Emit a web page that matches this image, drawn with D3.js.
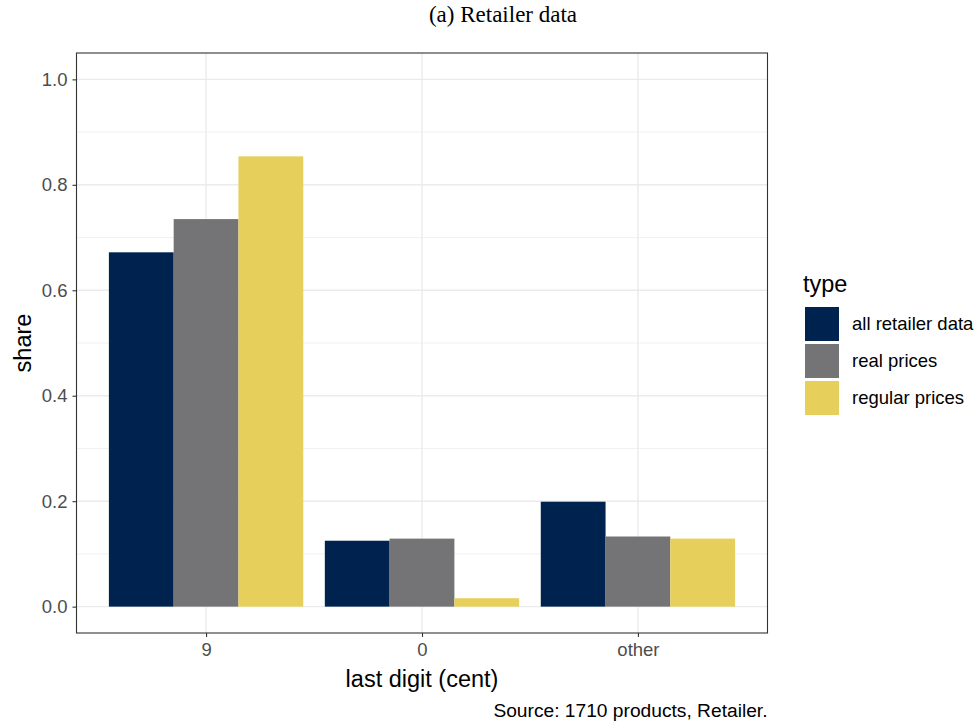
<!DOCTYPE html>
<html>
<head>
<meta charset="utf-8">
<script src="https://cdn.jsdelivr.net/npm/d3@7"></script>
<style>
  body { margin: 0; background: #fff; }
  svg { display: block; }
  text { font-family: "Liberation Sans", Arial, sans-serif; }
</style>
</head>
<body>
<svg id="chart" width="980" height="726"></svg>
<script>
const categories = ["9", "0", "other"];
const types = ["all retailer data", "real prices", "regular prices"];
const allRetailer = [0.672, 0.125, 0.199];
const realPrices = [0.735, 0.129, 0.133];
const regularPrices = [0.854, 0.016, 0.129];
const yTicks = [0, 0.2, 0.4, 0.6, 0.8, 1.0];
const yMinor = [0.1, 0.3, 0.5, 0.7, 0.9];
const colors = ["#00224E", "#747375", "#E6D05B"];

const seriesValues = [allRetailer, realPrices, regularPrices];
const data = [];
categories.forEach((c, i) => types.forEach((t, j) => data.push({cat: c, type: t, value: seriesValues[j][i]})));

const svg = d3.select("#chart");
const panel = {left: 76.5, right: 767.5, top: 53, bottom: 633};

// ggplot-style discrete expansion: 0.6 units each side
const step = (panel.right - panel.left) / (categories.length - 1 + 1.2);
const xPos = d3.scalePoint().domain(categories)
  .range([panel.left + 0.6 * step, panel.right - 0.6 * step]);
const groupW = 0.9 * step;
const xInner = d3.scaleBand().domain(types).range([-groupW / 2, groupW / 2]).padding(0);

const y = d3.scaleLinear().domain([-0.05, 1.05]).range([panel.bottom, panel.top]);
const color = d3.scaleOrdinal().domain(types).range(colors);

// grid
const g = svg.append("g");
g.selectAll(".minor").data(yMinor).join("line")
  .attr("x1", panel.left).attr("x2", panel.right)
  .attr("y1", d => y(d)).attr("y2", d => y(d))
  .attr("stroke", "#EBEBEB").attr("stroke-width", 0.7);
g.selectAll(".major").data(yTicks).join("line")
  .attr("x1", panel.left).attr("x2", panel.right)
  .attr("y1", d => y(d)).attr("y2", d => y(d))
  .attr("stroke", "#EBEBEB").attr("stroke-width", 1.4);
g.selectAll(".vmajor").data(categories).join("line")
  .attr("x1", d => xPos(d)).attr("x2", d => xPos(d))
  .attr("y1", panel.top).attr("y2", panel.bottom)
  .attr("stroke", "#EBEBEB").attr("stroke-width", 1.4);

// bars
svg.append("g").selectAll("rect").data(data).join("rect")
  .attr("x", d => xPos(d.cat) + xInner(d.type))
  .attr("width", xInner.bandwidth())
  .attr("y", d => y(Math.max(0, d.value)))
  .attr("height", d => Math.abs(y(d.value) - y(0)))
  .attr("fill", d => color(d.type));

// panel border
svg.append("rect").attr("x", panel.left).attr("y", panel.top)
  .attr("width", panel.right - panel.left).attr("height", panel.bottom - panel.top)
  .attr("fill", "none").attr("stroke", "#333333").attr("stroke-width", 1.1);

// y axis
const yAxis = d3.axisLeft(y).tickValues(yTicks).tickFormat(d3.format(".1f")).tickSize(4).tickPadding(5);
const ya = svg.append("g").attr("transform", `translate(${panel.left},0)`).call(yAxis);
ya.select(".domain").remove();
ya.selectAll(".tick line").attr("stroke", "#333333").attr("stroke-width", 1.1);
ya.selectAll(".tick text").attr("fill", "#4D4D4D").style("font-size", "18.5px")
  .style("font-family", "Liberation Sans, Arial, sans-serif");

// x axis
const xAxis = d3.axisBottom(xPos).tickSize(4).tickPadding(6);
const xa = svg.append("g").attr("transform", `translate(0,${panel.bottom})`).call(xAxis);
xa.select(".domain").remove();
xa.selectAll(".tick line").attr("stroke", "#333333").attr("stroke-width", 1.1);
xa.selectAll(".tick text").attr("fill", "#4D4D4D").style("font-size", "18.5px")
  .style("font-family", "Liberation Sans, Arial, sans-serif");

// axis titles
svg.append("text").attr("x", (panel.left + panel.right) / 2).attr("y", 687)
  .attr("text-anchor", "middle").style("font-size", "23.5px").attr("fill", "#000")
  .text("last digit (cent)");
svg.append("text").attr("transform", `translate(31,${(panel.top + panel.bottom) / 2}) rotate(-90)`)
  .attr("text-anchor", "middle").style("font-size", "23.5px").attr("fill", "#000")
  .text("share");

// title
svg.append("text").attr("x", 503).attr("y", 22).attr("text-anchor", "middle")
  .style("font-family", "Liberation Serif, 'DejaVu Serif', serif").style("font-size", "23px")
  .attr("fill", "#000").text("(a) Retailer data");

// caption
svg.append("text").attr("x", panel.right).attr("y", 717).attr("text-anchor", "end")
  .style("font-size", "19.2px").attr("fill", "#000")
  .text("Source: 1710 products, Retailer.");

// legend
const leg = svg.append("g");
leg.append("text").attr("x", 803).attr("y", 292).style("font-size", "23.5px").attr("fill", "#000").text("type");
const keyY = [307, 344, 381];
types.forEach((t, i) => {
  leg.append("rect").attr("x", 805).attr("y", keyY[i]).attr("width", 34).attr("height", 34)
    .attr("fill", color(t));
  leg.append("text").attr("x", 852).attr("y", keyY[i] + 17).attr("dy", "0.35em")
    .style("font-size", "18.5px").attr("fill", "#000").text(t);
});
</script>
</body>
</html>
